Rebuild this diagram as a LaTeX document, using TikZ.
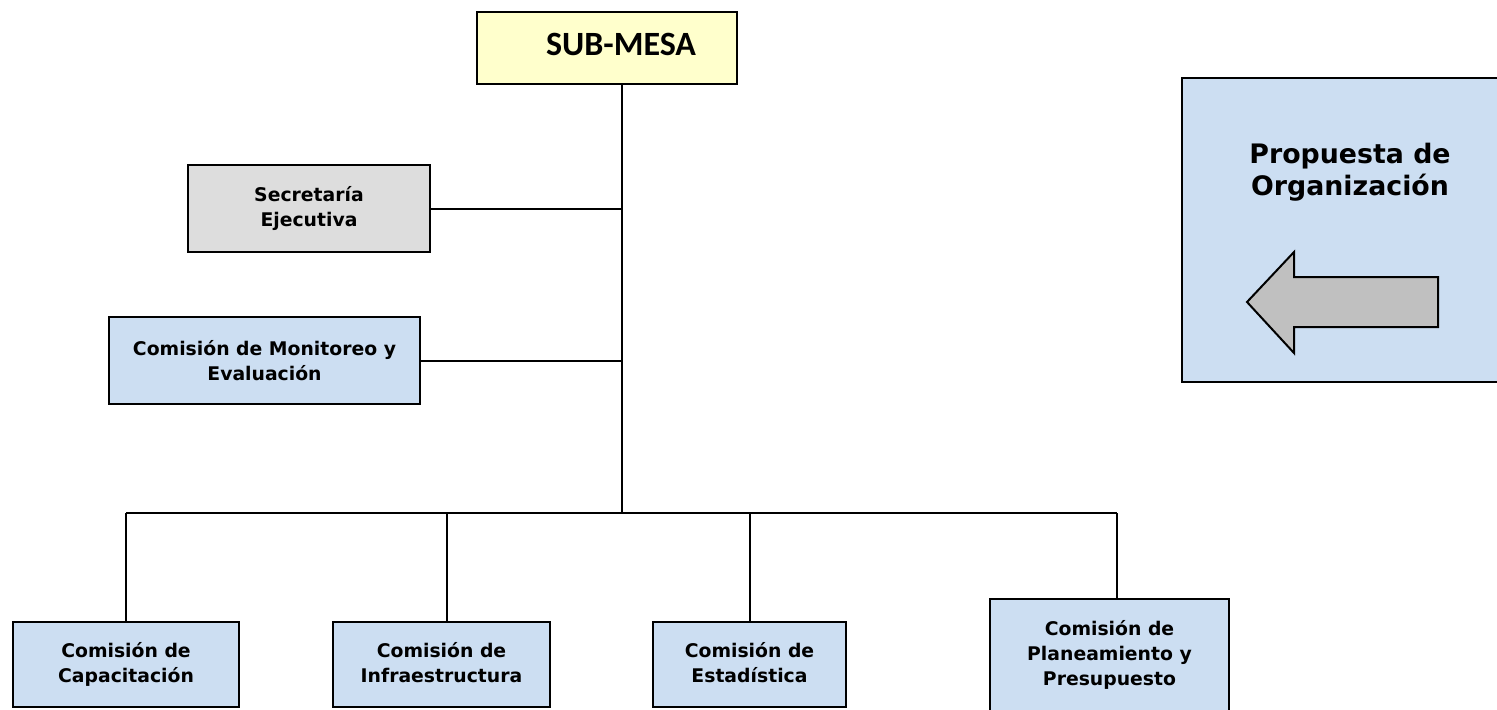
\documentclass[tikz,border=0pt]{standalone}
\usepackage{fontspec}
\setmainfont{DejaVu Sans}
\newfontfamily\calfont{Carlito}
\definecolor{subyellow}{RGB}{255,255,204}
\definecolor{secgray}{RGB}{221,221,221}
\definecolor{combox}{RGB}{204,222,242}
\definecolor{arrowgray}{RGB}{192,192,192}
\tikzset{
  orgtext/.style={font=\bfseries\fontsize{9.4pt}{12.5pt}\selectfont, align=center},
  orgbox/.style={draw=black, line width=1pt, inner sep=0pt, orgtext},
  bluebox/.style={orgbox, fill=combox},
  link/.style={draw=black, line width=1pt}
}
\begin{document}
\begin{tikzpicture}[x=0.5pt,y=-0.5pt]
\useasboundingbox (0,0) rectangle (1497,709);
\clip (0,0) rectangle (1497,709);
\fill[white] (0,0) rectangle (1497,709);

% top box
\node[orgbox, fill=subyellow, minimum width=130pt, minimum height=36pt] (sub) at (607,48) {};
\node[font=\calfont\bfseries\fontsize{17pt}{20pt}\selectfont, inner sep=0pt] (subtxt) at (621,44) {SUB-MESA};

% side boxes
\node[orgbox, fill=secgray, minimum width=121pt, minimum height=43.5pt] (sec) at (309,208.5) {Secretaría\\Ejecutiva};
\node[bluebox, minimum width=155.5pt, minimum height=43.5pt] (mon) at (264.5,360.5) {Comisión de Monitoreo y\\Evaluación};

% bottom boxes
\node[bluebox, minimum width=113pt, minimum height=42.5pt] (cap) at (126,664.5) {Comisión de\\Capacitación};
\node[bluebox, minimum width=108.5pt, minimum height=42.5pt] (inf) at (441.5,664.5) {Comisión de\\Infraestructura\vphantom{p}};
\node[bluebox, minimum width=96.5pt, minimum height=42.5pt] (est) at (749.5,664.5) {Comisión de\\Estadística\vphantom{p}};
\node[bluebox, minimum width=119.5pt, minimum height=70pt] (pla) at (1109.5,669) {};
\node[orgtext, inner sep=0pt] (platxt) at (1109.5,655) {Comisión de\\Planeamiento y\\Presupuesto};

% right panel
\node[bluebox, minimum width=170pt, minimum height=152pt] (prop) at (1352,230) {};
\node[font=\bfseries\fontsize{13.4pt}{16pt}\selectfont, align=center, inner sep=0pt] (proptxt) at (1350,172) {Propuesta de\\Organización};
\draw[line width=1pt, fill=arrowgray] (1247,302) -- (1294,252) -- (1294,277) -- (1438,277) -- (1438,327) -- (1294,327) -- (1294,353) -- cycle;

% connectors
\coordinate (trunk) at (622,513);
\coordinate (busL) at (126,513);
\coordinate (busR) at (1117,513);
\coordinate (dinf) at (447,513);
\coordinate (dest) at (750,513);
\draw[link] (sub.south -| trunk) -- (trunk);
\draw[link] (sec.east) -- (sec.east -| trunk);
\draw[link] (mon.east) -- (mon.east -| trunk);
\draw[link] (busL) -- (busR);
\draw[link] (busL) -- (cap.north);
\draw[link] (dinf) -- (dinf |- inf.north);
\draw[link] (dest) -- (dest |- est.north);
\draw[link] (busR) -- (busR |- pla.north);
\end{tikzpicture}
\end{document}
